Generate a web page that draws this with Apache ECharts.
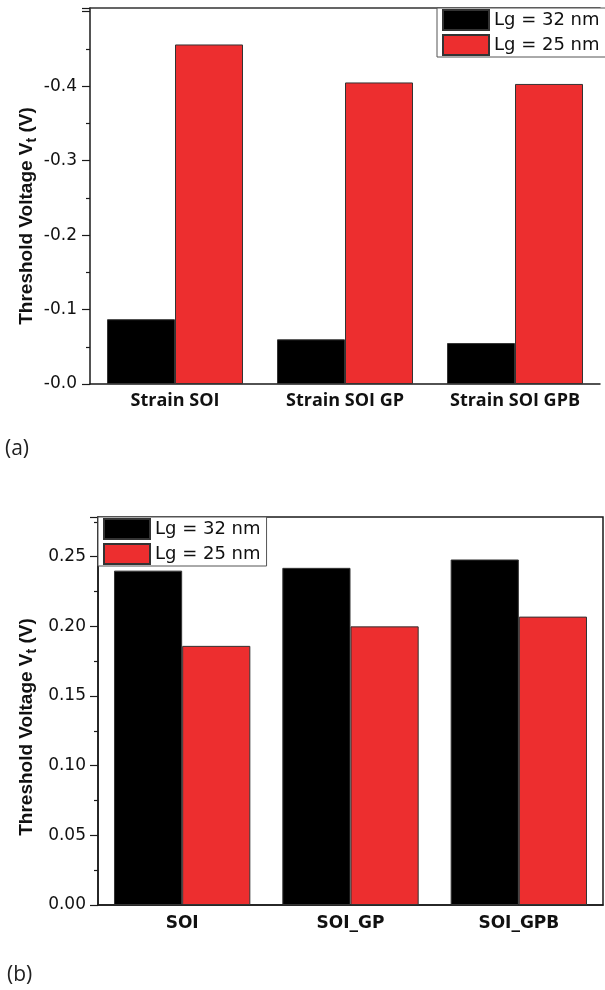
<!DOCTYPE html>
<html>
<head>
<meta charset="utf-8">
<title>Threshold voltage</title>
<script src="https://cdn.jsdelivr.net/npm/echarts@6.0.0/dist/echarts.min.js"></script>
<style>
  html, body { margin: 0; padding: 0; background: #fff; }
  #chart { width: 605px; height: 990px; }
</style>
</head>
<body>
<div id="chart"></div>
<script>
// (a) strained devices, Vt is negative
const strainCategories = ['Strain SOI', 'Strain SOI GP', 'Strain SOI GPB']
const strainLg32 = [-0.087, -0.060, -0.055]
const strainLg25 = [-0.456, -0.405, -0.403]

// (b) unstrained devices
const soiCategories = ['SOI', 'SOI_GP', 'SOI_GPB']
const soiLg32 = [0.240, 0.242, 0.248]
const soiLg25 = [0.186, 0.200, 0.207]

const seriesNames = ['Lg = 32 nm', 'Lg = 25 nm']

const black = '#000000'
const red = '#ED2E2F'
const axisColor = '#1a1a1a'
const tickFont = 'DejaVu Sans'

const chart = echarts.init(document.getElementById('chart'), null, { renderer: 'canvas' })

function barStyle(color) {
  return { color: color, borderColor: '#333', borderWidth: 1 }
}

function legendBox(left, top, padRight) {
  return {
    orient: 'vertical',
    left: left,
    top: top,
    data: seriesNames,
    selectedMode: false,
    icon: 'rect',
    itemWidth: 46,
    itemHeight: 20,
    itemGap: 3,
    padding: [1, padRight, 1, 5],
    borderColor: '#555',
    borderWidth: 1,
    borderRadius: 0,
    backgroundColor: '#fff',
    textStyle: { fontFamily: tickFont, fontSize: 18, color: '#111' }
  }
}

function yTitle(x, y) {
  return {
    type: 'text',
    x: x,
    y: y,
    rotation: Math.PI / 2,
    style: {
      text: '{a|Threshold Voltage V}{s|t}{a| (V)}',
      align: 'center',
      verticalAlign: 'middle',
      rich: {
        a: { fontFamily: 'Liberation Sans', fontWeight: 'bold', fontSize: 19, lineHeight: 24, fill: '#111' },
        s: { fontFamily: 'Liberation Sans', fontWeight: 'bold', fontSize: 14, lineHeight: 8, verticalAlign: 'bottom', fill: '#111' }
      }
    }
  }
}

chart.setOption({
  backgroundColor: '#fff',
  animation: false,
  grid: [
    { left: 90, top: 8, width: 510, height: 376, show: false },
    { left: 98, top: 517, width: 505, height: 388, show: true, borderColor: axisColor, borderWidth: 1.5, backgroundColor: 'transparent' }
  ],
  legend: [
    legendBox(437, 8, 14),
    legendBox(98, 517, 6)
  ],
  xAxis: [
    {
      gridIndex: 0,
      type: 'category',
      data: strainCategories,
      position: 'bottom',
      axisLine: { lineStyle: { color: axisColor, width: 1.5 } },
      axisTick: { alignWithLabel: true, length: 7, lineStyle: { color: axisColor, width: 1.2 } },
      axisLabel: { interval: 0, hideOverlap: false, margin: 8, fontFamily: 'Open Sans', fontWeight: 'bold', fontSize: 18, color: '#111' }
    },
    {
      gridIndex: 0,
      type: 'category',
      data: strainCategories,
      position: 'bottom',
      axisLine: { show: false },
      axisTick: { length: 4, lineStyle: { color: axisColor, width: 1.2 } },
      axisLabel: { show: false }
    },
    {
      gridIndex: 0,
      type: 'category',
      data: strainCategories,
      position: 'top',
      axisLine: { lineStyle: { color: '#333', width: 1.5 } },
      axisTick: { show: false },
      axisLabel: { show: false }
    },
    {
      gridIndex: 1,
      type: 'category',
      data: soiCategories,
      position: 'bottom',
      axisLine: { lineStyle: { color: axisColor, width: 1.5 } },
      axisTick: { alignWithLabel: true, length: 7, lineStyle: { color: axisColor, width: 1.2 } },
      axisLabel: { interval: 0, margin: 10, fontFamily: tickFont, fontWeight: 'bold', fontSize: 17, color: '#111' }
    },
    {
      gridIndex: 1,
      type: 'category',
      data: soiCategories,
      position: 'bottom',
      axisLine: { show: false },
      axisTick: { length: 4, lineStyle: { color: axisColor, width: 1.2 } },
      axisLabel: { show: false }
    }
  ],
  yAxis: [
    {
      gridIndex: 0,
      type: 'value',
      min: -0.505,
      max: 0,
      inverse: true,
      splitLine: { show: false },
      axisLine: { show: true, lineStyle: { color: axisColor, width: 1.5 } },
      axisTick: { show: true, length: 8, lineStyle: { color: axisColor, width: 1.2 } },
      minorTick: { show: true, splitNumber: 2, length: 4, lineStyle: { color: axisColor, width: 1.2 } },
      axisLabel: {
        margin: 13,
        fontFamily: tickFont,
        fontSize: 17,
        color: '#111',
        formatter: function (v) {
          if (v < -0.45) return ''
          return v === 0 ? '-0.0' : v.toFixed(1)
        }
      }
    },
    {
      gridIndex: 1,
      type: 'value',
      min: 0,
      max: 0.2785,
      interval: 0.05,
      splitLine: { show: false },
      axisLine: { show: true, lineStyle: { color: axisColor, width: 1.5 } },
      axisTick: { show: true, length: 8, lineStyle: { color: axisColor, width: 1.2 } },
      minorTick: { show: true, splitNumber: 2, length: 4, lineStyle: { color: axisColor, width: 1.2 } },
      axisLabel: {
        margin: 12,
        fontFamily: tickFont,
        fontSize: 17,
        color: '#111',
        formatter: function (v) {
          return v > 0.26 ? '' : v.toFixed(2)
        }
      }
    }
  ],
  graphic: [
    yTitle(27, 216),
    yTitle(27, 727),
    { type: 'text', left: 5, top: 439, style: { text: '(a)', fontFamily: 'Open Sans', fontSize: 21, fill: '#222' } },
    { type: 'text', left: 7, top: 965, style: { text: '(b)', fontFamily: 'Open Sans', fontSize: 21, fill: '#222' } }
  ],
  series: [
    {
      name: seriesNames[0], type: 'bar', xAxisIndex: 0, yAxisIndex: 0,
      data: strainLg32, barGap: '0%', barCategoryGap: '20%', itemStyle: barStyle(black)
    },
    {
      name: seriesNames[1], type: 'bar', xAxisIndex: 0, yAxisIndex: 0,
      data: strainLg25, barGap: '0%', barCategoryGap: '20%', itemStyle: barStyle(red)
    },
    {
      name: seriesNames[0], type: 'bar', xAxisIndex: 3, yAxisIndex: 1,
      data: soiLg32, barGap: '0%', barCategoryGap: '19%', itemStyle: barStyle(black)
    },
    {
      name: seriesNames[1], type: 'bar', xAxisIndex: 3, yAxisIndex: 1,
      data: soiLg25, barGap: '0%', barCategoryGap: '19%', itemStyle: barStyle(red)
    }
  ]
})
</script>
</body>
</html>
